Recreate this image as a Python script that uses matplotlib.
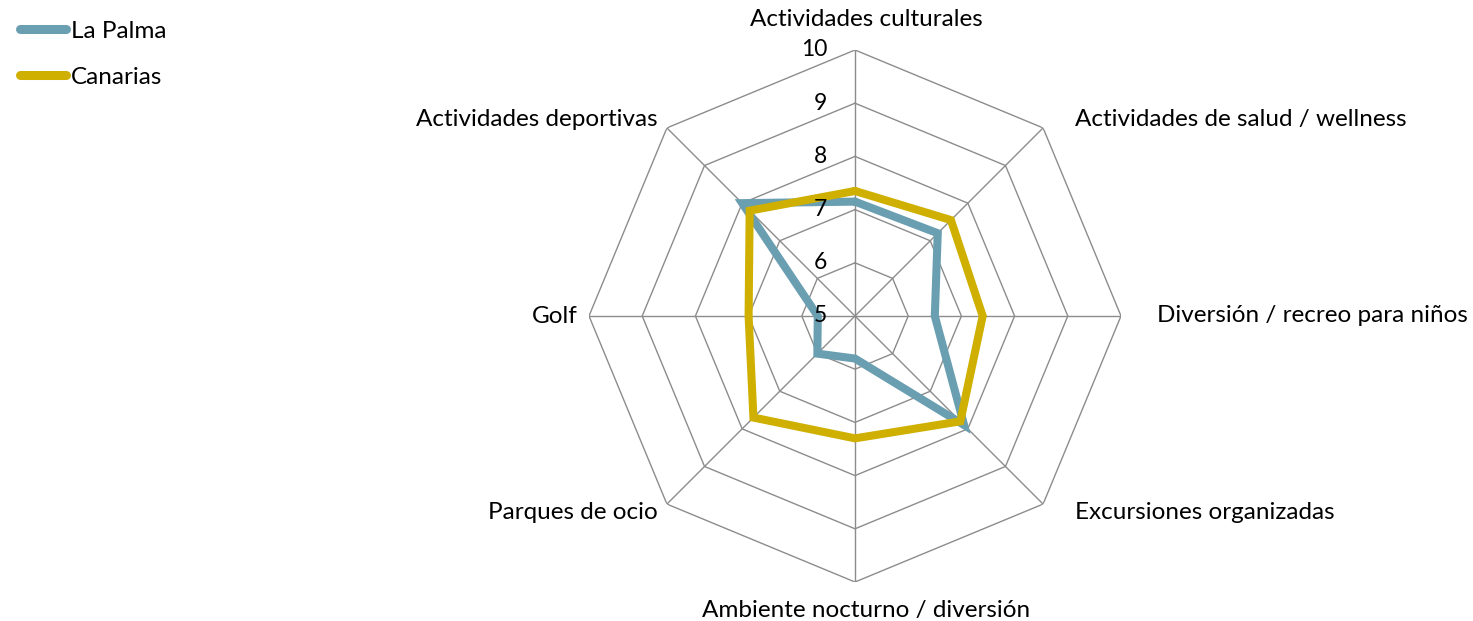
import numpy as np
import matplotlib
matplotlib.use("Agg")
import matplotlib.pyplot as plt

categories = ["Actividades culturales", "Actividades de salud / wellness",
              "Diversión / recreo para niños", "Excursiones organizadas",
              "Ambiente nocturno / diversión", "Parques de ocio", "Golf",
              "Actividades deportivas"]
la_palma = [7.15, 7.2, 6.5, 7.9, 5.8, 6.0, 5.7, 8.0]
canarias = [7.35, 7.55, 7.4, 7.8, 7.3, 7.7, 7.0, 7.8]
r_ticks = [5, 6, 7, 8, 9, 10]
series_names = ["La Palma", "Canarias"]
colors = ["#6A9FB1", "#CFB000"]

plt.rcParams['font.family'] = ['Lato', 'DejaVu Sans']

W, H = 1473, 621
fig = plt.figure(figsize=(W / 100, H / 100), dpi=100)
cx, cy, R = 855, 316, 266
ax = fig.add_axes([(cx - R) / W, (H - cy - R) / H, 2 * R / W, 2 * R / H], projection='polar')
ax.set_theta_offset(np.pi / 2)
ax.set_theta_direction(-1)
ax.set_ylim(5, 10)
ax.grid(False)
ax.spines['polar'].set_visible(False)
ax.set_xticks([])
ax.set_yticks([])
ax.patch.set_alpha(0)

n = len(categories)
theta = np.linspace(0, 2 * np.pi, n, endpoint=False)
theta_c = np.append(theta, theta[0])

grid_col = "#8C8C8C"
for lvl in r_ticks[1:]:
    ax.plot(theta_c, [lvl] * (n + 1), color=grid_col, lw=1.0, zorder=1)
for t in theta:
    ax.plot([t, t], [5, 10], color=grid_col, lw=1.0, zorder=1)

for vals, col, name in zip([la_palma, canarias], colors, series_names):
    ax.plot(theta_c, vals + vals[:1], color=col, lw=5.8, label=name,
            solid_joinstyle='miter', solid_capstyle='round', zorder=3)

# radial tick labels
for lvl in r_ticks:
    ax.annotate(str(lvl), xy=(0, lvl), xytext=(-28 * 0.72, 0), textcoords='offset points',
                ha='right', va='center', fontsize=16.5, color='black', zorder=4)

# category labels (offsets in pixels)
offsets = [(11, 30, 'center'), (32, 8, 'left'), (36, 0, 'left'), (32, -8, 'left'),
           (11, -28, 'center'), (-9, -8, 'right'), (-11, 0, 'right'), (-9, 8, 'right')]
for t, lab, (dx, dy, ha) in zip(theta, categories, offsets):
    ax.annotate(lab, xy=(t, 10), xytext=(dx * 0.72, dy * 0.72), textcoords='offset points',
                ha=ha, va='center', fontsize=17.5, color='black', annotation_clip=False)

leg = fig.legend(loc='upper left', bbox_to_anchor=(10 / W, 1 - 11 / H), frameon=False,
                 fontsize=17.5, handlelength=1.92, handletextpad=0.18, labelspacing=1.02,
                 borderaxespad=0)
for h in leg.get_lines():
    h.set_linewidth(6.5)
    h.set_solid_capstyle('round')

fig.savefig("out.png", dpi=100)
